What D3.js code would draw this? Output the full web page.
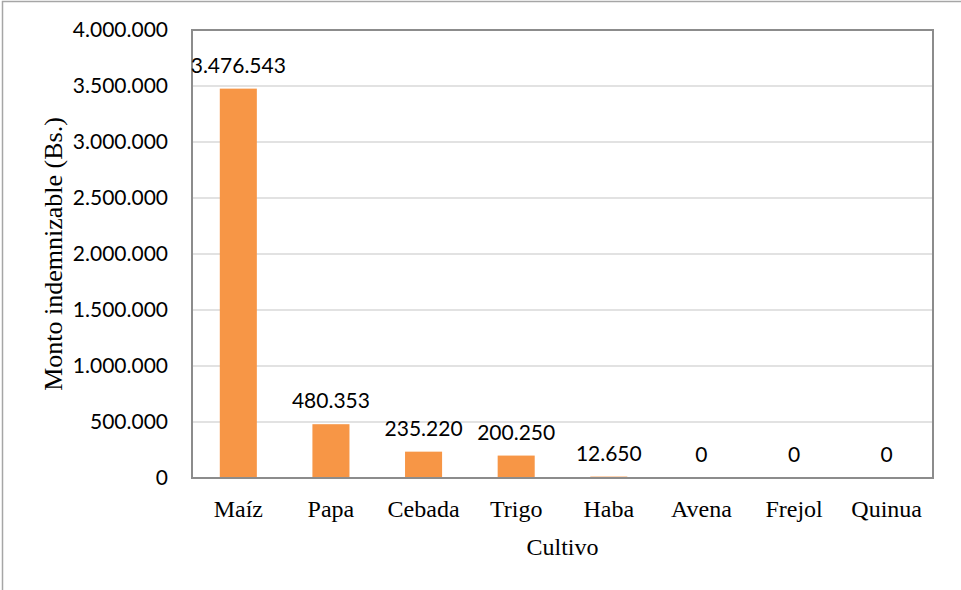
<!DOCTYPE html>
<html>
<head>
<meta charset="utf-8">
<script src="https://cdn.jsdelivr.net/npm/d3@7"></script>
<style>
  body { margin: 0; background: #fff; }
  svg { display: block; }
</style>
</head>
<body>
<div id="chart"></div>
<script>
// Monto indemnizable por cultivo (Bs.)

const cultivos = ["Maíz", "Papa", "Cebada", "Trigo", "Haba", "Avena", "Frejol", "Quinua"];
const montos = [3476543, 480353, 235220, 200250, 12650, 0, 0, 0];
const yTicks = [0, 500000, 1000000, 1500000, 2000000, 2500000, 3000000, 3500000, 4000000];

const width = 961, height = 590;
const margin = { top: 30, right: 28, bottom: 112, left: 192 };
const plotW = width - margin.left - margin.right;
const plotH = height - margin.top - margin.bottom;

const sansFont = "Lato, 'Open Sans', sans-serif";
const serifFont = "'Liberation Serif', 'DejaVu Serif', serif";

// formato 3.476.543
const fmt = d3.formatLocale({ decimal: ",", thousands: ".", grouping: [3], currency: ["", ""] }).format(",.0f");

const svg = d3.select("#chart")
    .append("svg")
    .attr("width", width)
    .attr("height", height);

// borde exterior (solo arriba e izquierda visibles)
svg.append("rect")
    .attr("x", 2.5).attr("y", 1.5)
    .attr("width", 1200).attr("height", 1200)
    .attr("fill", "none")
    .attr("stroke", "#a6a6a6")
    .attr("stroke-width", 1.5);

const g = svg.append("g")
    .attr("transform", `translate(${margin.left},${margin.top})`);

const x = d3.scaleBand()
    .domain(cultivos)
    .range([0, plotW])
    .paddingInner(0.6)
    .paddingOuter(0.3);

const y = d3.scaleLinear()
    .domain([0, 4000000])
    .range([plotH, 0]);

// gridlines
g.selectAll(".grid")
    .data(yTicks.slice(1, -1))
    .enter()
    .append("line")
    .attr("x1", 0).attr("x2", plotW)
    .attr("y1", d => y(d)).attr("y2", d => y(d))
    .attr("stroke", "#d9d9d9")
    .attr("stroke-width", 1.5);

// bars
g.selectAll(".bar")
    .data(cultivos)
    .enter()
    .append("rect")
    .attr("x", d => x(d))
    .attr("y", (d, i) => y(montos[i]))
    .attr("width", x.bandwidth())
    .attr("height", (d, i) => plotH - y(montos[i]))
    .attr("fill", "#f79646");

// marco del área de trazado
g.append("rect")
    .attr("x", 0).attr("y", 0)
    .attr("width", plotW).attr("height", plotH)
    .attr("fill", "none")
    .attr("stroke", "#8c8c8c")
    .attr("stroke-width", 2);

// data labels
g.selectAll(".label")
    .data(cultivos)
    .enter()
    .append("text")
    .attr("x", d => x(d) + x.bandwidth() / 2)
    .attr("y", (d, i) => y(montos[i]) - 16)
    .attr("text-anchor", "middle")
    .style("font-family", sansFont)
    .style("font-size", "21px")
    .attr("fill", "#000")
    .text((d, i) => fmt(montos[i]));

// y axis
const yAxis = g.append("g")
    .call(d3.axisLeft(y).tickValues(yTicks).tickSize(0).tickPadding(24).tickFormat(fmt));
yAxis.select(".domain").remove();
yAxis.selectAll("text")
    .style("font-family", sansFont)
    .style("font-size", "21px")
    .attr("fill", "#000");

// x axis
const xAxis = g.append("g")
    .attr("transform", `translate(0,${plotH})`)
    .call(d3.axisBottom(x).tickSize(0).tickPadding(22));
xAxis.select(".domain").remove();
xAxis.selectAll("text")
    .style("font-family", serifFont)
    .style("font-size", "24px")
    .attr("fill", "#000");

// axis titles
svg.append("text")
    .attr("transform", `translate(62,${margin.top + plotH / 2}) rotate(-90)`)
    .attr("text-anchor", "middle")
    .style("font-family", serifFont)
    .style("font-size", "26px")
    .text("Monto indemnizable (Bs.)");

svg.append("text")
    .attr("x", margin.left + plotW / 2)
    .attr("y", 555)
    .attr("text-anchor", "middle")
    .style("font-family", serifFont)
    .style("font-size", "24px")
    .text("Cultivo");
</script>
</body>
</html>
